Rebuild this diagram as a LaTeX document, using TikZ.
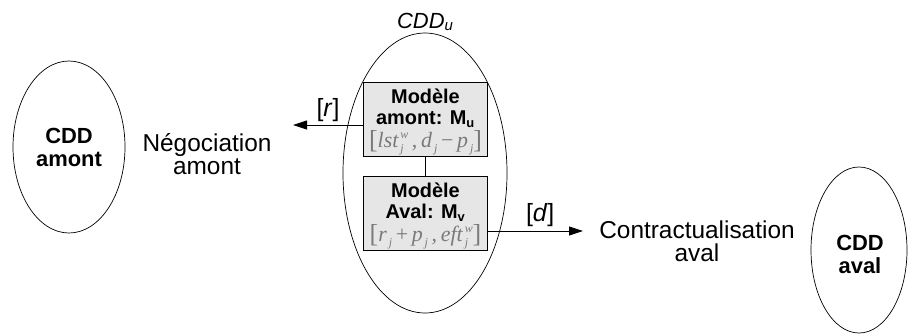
\documentclass[tikz,border=0pt]{standalone}
\usepackage{fontspec}
\setmainfont{Liberation Sans}
\newfontfamily\tms{Liberation Serif}
\usetikzlibrary{arrows.meta,shapes.geometric}
\definecolor{boxfill}{HTML}{E6E6E6}
\definecolor{formula}{HTML}{7A7A7A}
\newcommand{\fs}[2]{\fontsize{#1}{#2}\selectfont}
\newcommand{\spsb}[2]{\raisebox{-5bp}{\fs{12}{12}\shortstack[l]{\,#1\\[3bp]\,#2}}}
\newcommand{\sbonly}[1]{\raisebox{-5bp}{\fs{12}{12}\,#1}}
\newcommand{\brk}[1]{{\fs{26}{26}\upshape\raisebox{-1.5bp}{#1}}}
\tikzset{
  cdd/.style={draw, ellipse, line width=0.7bp, inner sep=0pt},
  model/.style={draw, fill=boxfill, line width=0.8bp, minimum width=124bp, minimum height=74bp, inner sep=0pt},
  modeltext/.style={inner sep=0pt, align=center, font=\fs{20}{21}\bfseries},
  plain/.style={align=center, inner sep=0pt, font=\fs{24.5}{23.5}},
  boldlbl/.style={align=center, inner sep=0pt, font=\fs{22}{23}\bfseries},
  arr/.style={line width=0.9bp, -{Triangle[length=14bp,width=9bp]}},
  link/.style={line width=0.9bp},
}
\begin{document}
\begin{tikzpicture}[x=1bp,y=-1bp]
\useasboundingbox (0,0) rectangle (909,335);
% ellipses
\node[cdd, minimum width=164bp, minimum height=280bp] (big) at (425,173) {};
\node[cdd, minimum width=112bp, minimum height=172bp] (left) at (69,147) {};
\node[cdd, minimum width=96bp, minimum height=166bp] (right) at (859,250) {};
% titles
\node[inner sep=0pt, font=\fs{22}{22}\itshape] (title) at (425,22) {CDD{\fs{15}{15}\raisebox{-2bp}{u}}};
\node[boldlbl] (amontlbl) at (69,147) {CDD\\amont};
\node[boldlbl] (avallbl) at (860,254) {CDD\\aval};
\node[plain] (nego) at (207,154) {Négociation\\amont};
\node[plain] (contr) at (697,241) {Contractualisation\\aval};
% model boxes
\node[model] (mu) at (425.5,119.5) {};
\node[model] (mv) at (425.5,213.5) {};
\node[modeltext] (mut) at (425.5,122) {Modèle\\amont: M\textsubscript{\fs{13}{13}u}\\[2bp]
  {\fs{22}{22}\tms\itshape\mdseries\color{formula}\brk{[}lst\spsb{w}{j}\,,\,d\sbonly{j}\,\upshape−\,\itshape p\sbonly{j}\brk{]}}};
\node[modeltext] (mvt) at (425.5,216) {Modèle\\Aval: M\textsubscript{\fs{13}{13}v}\\[2bp]
  {\fs{22}{22}\tms\itshape\mdseries\color{formula}\brk{[}r\sbonly{j}\,\upshape+\,\itshape p\sbonly{j}\,,\,eft\spsb{w}{j}\brk{]}}};
% connectors
\coordinate (rtip) at (293,125);
\coordinate (dtip) at (583,231);
\draw[link] (mu) -- (mv);
\draw[arr] (mu.west |- rtip) -- node[above=3bp, font=\fs{25}{25}, inner sep=0pt] (rlbl) {[\textit{r}]} (rtip);
\draw[arr] (mv.east |- dtip) -- node[above=4bp, pos=0.55, font=\fs{25}{25}, inner sep=0pt] (dlbl) {[\textit{d}]} (dtip);
\end{tikzpicture}
\end{document}
